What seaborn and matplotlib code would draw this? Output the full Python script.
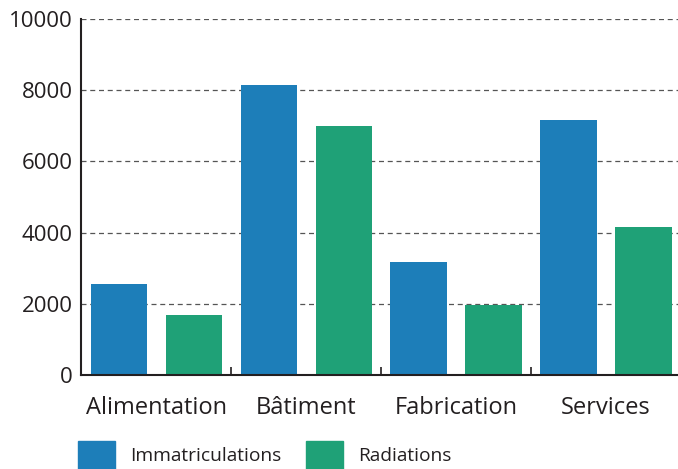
import pandas as pd
import seaborn as sns
import matplotlib.pyplot as plt
from matplotlib.ticker import FixedLocator

categories = ['Alimentation', 'Bâtiment', 'Fabrication', 'Services']
immatriculations = [2550, 8150, 3170, 7150]
radiations = [1680, 7000, 1960, 4150]
series = ['Immatriculations', 'Radiations']
colors = ['#1d7eb9', '#1fa177']

df = pd.DataFrame({
    'secteur': categories * 2,
    'serie': [series[0]] * 4 + [series[1]] * 4,
    'valeur': immatriculations + radiations,
})

sns.set_style('white')
plt.rcParams['font.family'] = ['Open Sans', 'DejaVu Sans']

fig = plt.figure(figsize=(6.78, 4.69), dpi=100)
ax = fig.add_axes([0.1195, 0.2004, 0.8805, 0.7591])

sns.barplot(data=df, x='secteur', y='valeur', hue='serie', palette=colors,
            width=1.0, gap=0.253, saturation=1, linewidth=0, ax=ax, legend=False)

ax.set_xlim(-0.5, 3.48)
ax.set_ylim(0, 10000)
ax.set_yticks([0, 2000, 4000, 6000, 8000, 10000])
ax.tick_params(axis='y', length=0, pad=6, labelsize=16, colors='#231f20')
ax.tick_params(axis='x', which='major', length=0, pad=15, labelsize=17, colors='#231f20')
ax.xaxis.set_minor_locator(FixedLocator([0.5, 1.5, 2.5, 3.5]))
ax.tick_params(axis='x', which='minor', bottom=True, direction='in', length=6,
               width=1.2, color='#231f20')
ax.set_xlabel('')
ax.set_ylabel('')

ax.grid(axis='y', linestyle=(0, (4, 3)), color='#555555', linewidth=0.9)
ax.set_axisbelow(True)
for s in ['top', 'right']:
    ax.spines[s].set_visible(False)
for s in ['left', 'bottom']:
    ax.spines[s].set_color('#231f20')
    ax.spines[s].set_linewidth(1.5)

handles = [plt.Rectangle((0, 0), 1, 1, color=c) for c in colors]
fig.legend(handles, series, loc='lower left', bbox_to_anchor=(0.115, 0.0),
           ncol=2, frameon=False, fontsize=13.75, handlelength=1.94, handleheight=1.9,
           handletextpad=0.78, columnspacing=1.3, borderpad=0, borderaxespad=0,
           labelcolor='#231f20')

fig.savefig('out.png', dpi=100)
